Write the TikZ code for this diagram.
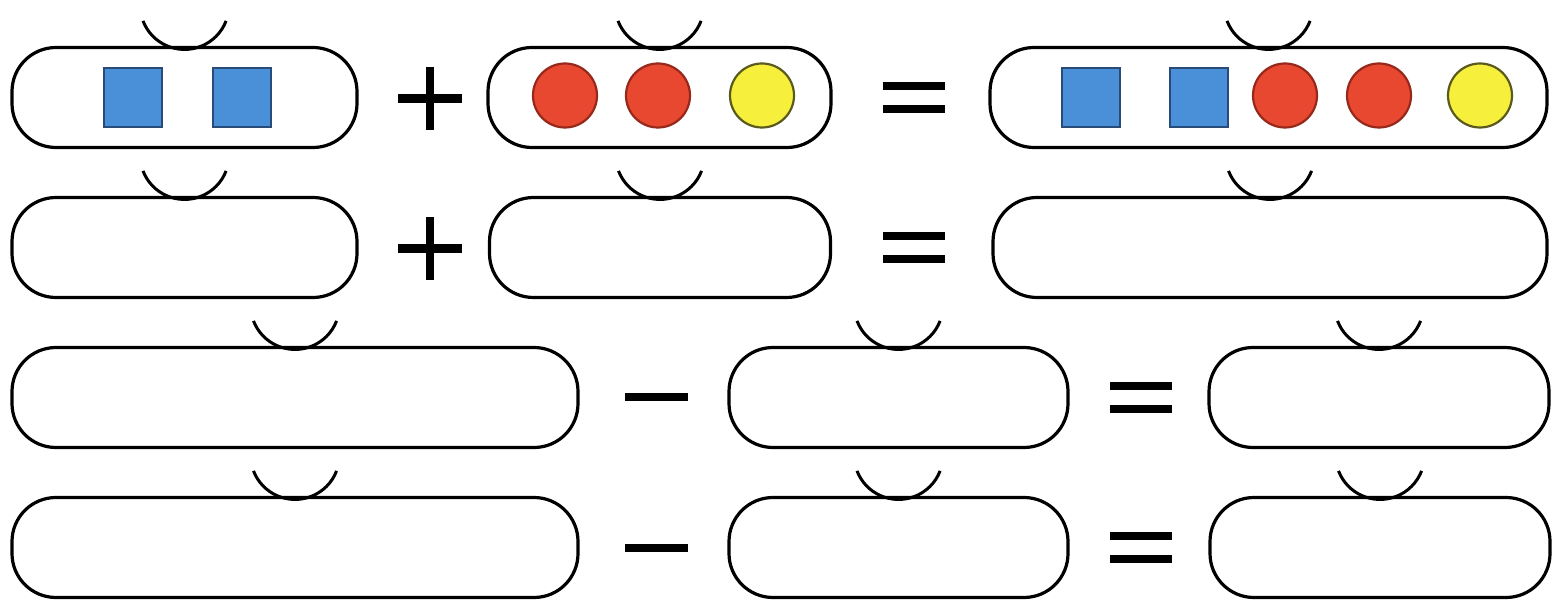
\documentclass[tikz,border=0pt]{standalone}
\definecolor{sqblue}{RGB}{74,144,217}
\definecolor{sqedge}{RGB}{40,75,120}
\definecolor{cred}{RGB}{232,72,48}
\definecolor{credge}{RGB}{150,40,28}
\definecolor{cyel}{RGB}{246,240,60}
\definecolor{cyeledge}{RGB}{90,90,30}
\tikzset{
  slot/.style={draw=black, line width=3.2pt, rounded corners=44pt, minimum height=100pt, inner sep=0pt, outer sep=0pt},
  sqitem/.style={draw=sqedge, fill=sqblue, line width=2pt, minimum width=58pt, minimum height=59pt, inner sep=0pt},
  reditem/.style={circle, draw=credge, fill=cred, line width=2.2pt, minimum size=64pt, inner sep=0pt},
  yelitem/.style={circle, draw=cyeledge, fill=cyel, line width=2.2pt, minimum size=64pt, inner sep=0pt},
  plusop/.style={minimum width=64pt, minimum height=63pt, inner sep=0pt,
    path picture={\draw[line width=8.5pt] (path picture bounding box.west) -- (path picture bounding box.east);
                  \draw[line width=8.5pt] (path picture bounding box.north) -- (path picture bounding box.south);}},
  minusop/.style={minimum width=63pt, minimum height=10pt, inner sep=0pt,
    path picture={\draw[line width=8pt] (path picture bounding box.west) -- (path picture bounding box.east);}},
  equalsop/.style={minimum width=62pt, minimum height=32pt, inner sep=0pt,
    path picture={\draw[line width=8pt] ([yshift=11.5pt]path picture bounding box.west) -- ([yshift=11.5pt]path picture bounding box.east);
                  \draw[line width=8pt] ([yshift=-11.5pt]path picture bounding box.west) -- ([yshift=-11.5pt]path picture bounding box.east);}},
  cuparc/.style={draw=black, line width=3pt}
}
\begin{document}
\begin{tikzpicture}[x=1pt,y=1pt]
\useasboundingbox (0,0) rectangle (1555,600);
\fill[white] (0,0) rectangle (1555,600);
% row 1
\node[slot, minimum width=345pt] (a1) at (184.5,502.5) {};
\node[slot, minimum width=343pt] (b1) at (659.5,502.5) {};
\node[slot, minimum width=557pt] (c1) at (1268.5,502.5) {};
% row 2
\node[slot, minimum width=345pt] (a2) at (184.5,352.5) {};
\node[slot, minimum width=341pt] (b2) at (660,352.5) {};
\node[slot, minimum width=554pt] (c2) at (1270,352.5) {};
% row 3
\node[slot, minimum width=566pt] (a3) at (295,202.5) {};
\node[slot, minimum width=339pt] (b3) at (898.5,202.5) {};
\node[slot, minimum width=340pt] (c3) at (1379,202.5) {};
% row 4
\node[slot, minimum width=566pt] (a4) at (295,52.5) {};
\node[slot, minimum width=339pt] (b4) at (898.5,52.5) {};
\node[slot, minimum width=340pt] (c4) at (1380,52.5) {};
% cups above the boxes
\foreach \n in {a1,b1,c1,a2,b2,c2,a3,b3,c3,a4,b4,c4}
  \draw[cuparc] ([shift={(-41.5,26.6)}]\n.north) arc[start angle=201, end angle=339, radius=44.5];
% operators
\node[plusop] (p1) at (430,501.5) {};
\node[plusop] (p2) at (430,351.5) {};
\node[equalsop] (e1) at (914,502) {};
\node[equalsop] (e2) at (914,352) {};
\node[minusop] (m3) at (656.5,202.5) {};
\node[minusop] (m4) at (656.5,52.5) {};
\node[equalsop] (e3) at (1141,202.5) {};
\node[equalsop] (e4) at (1141,52.5) {};
% items row 1
\node[sqitem] (s1) at (133,502.5) {};
\node[sqitem] (s2) at (242,502.5) {};
\node[reditem] (r1) at (565,504.5) {};
\node[reditem] (r2) at (658,504.5) {};
\node[yelitem] (y1) at (762,504.5) {};
\node[sqitem] (s3) at (1091,502.5) {};
\node[sqitem] (s4) at (1199,502.5) {};
\node[reditem] (r3) at (1285,504.5) {};
\node[reditem] (r4) at (1379,504.5) {};
\node[yelitem] (y2) at (1480,504.5) {};
\end{tikzpicture}
\end{document}
